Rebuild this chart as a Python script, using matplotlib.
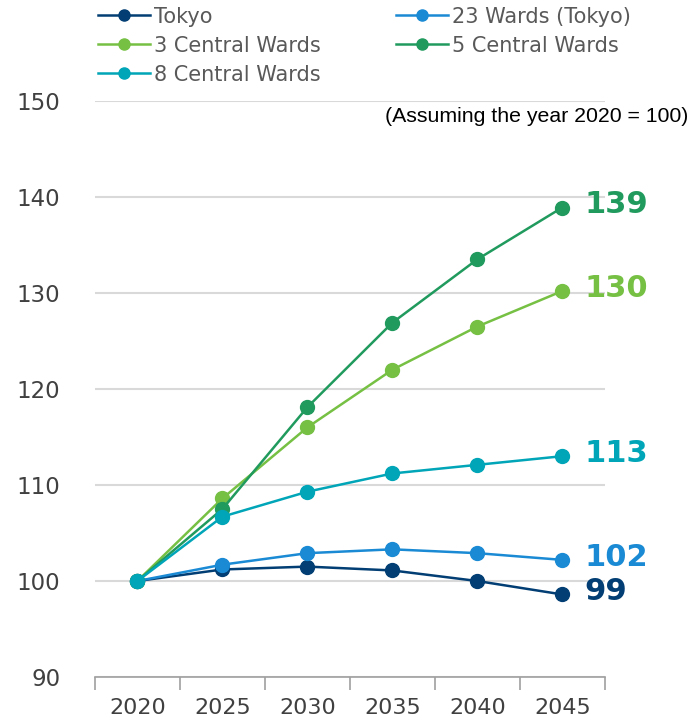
import matplotlib
matplotlib.use("Agg")
from matplotlib import pyplot as plt

years = ["2020", "2025", "2030", "2035", "2040", "2045"]
names = ["Tokyo", "23 Wards (Tokyo)", "3 Central Wards", "5 Central Wards", "8 Central Wards"]
tokyo = [100, 101.2, 101.5, 101.1, 100.0, 98.6]
wards23 = [100, 101.7, 102.9, 103.3, 102.9, 102.2]
central3 = [100, 108.6, 116.0, 122.0, 126.5, 130.2]
central5 = [100, 107.5, 118.1, 126.9, 133.5, 138.9]
central8 = [100, 106.7, 109.3, 111.2, 112.1, 113.0]
colors = ["#023e73", "#1a8ad4", "#76c044", "#219a5e", "#00a5b7"]

series = [tokyo, wards23, central3, central5, central8]

fig = plt.figure(figsize=(6.88, 7.21), dpi=100)
ax = fig.add_axes([0.138, 0.061, 0.741, 0.799])

x = list(range(len(years)))
lines = []
for vals, name, c in zip(series, names, colors):
    ln, = ax.plot(x, vals, color=c, lw=1.8, marker="o", ms=10, label=name, zorder=3)
    lines.append(ln)
    ax.annotate(f"{vals[-1]:.0f}", (x[-1], vals[-1]), xytext=(16, 2),
                textcoords="offset points", ha="left", va="center",
                fontsize=22, fontweight="bold", color=c)

ax.set_xlim(-0.5, 5.5)
ax.set_ylim(90, 150)
ax.set_yticks(range(90, 151, 10))
ax.set_xticks(x)
ax.set_xticklabels(years)
ax.set_xticks([i - 0.5 for i in range(7)], minor=True)
ax.tick_params(axis="x", which="major", length=0, pad=15, labelsize=16, labelcolor="#404040")
ax.tick_params(axis="x", which="minor", length=9, width=1.2, color="#a0a0a0", direction="out")
ax.tick_params(axis="y", length=0, pad=25, labelsize=16.5, labelcolor="#404040")
ax.grid(axis="y", color="#d9d9d9", lw=1.5)
ax.set_axisbelow(True)
for s in ["top", "right", "left"]:
    ax.spines[s].set_visible(False)
ax.spines["bottom"].set_color("#a0a0a0")
ax.spines["bottom"].set_linewidth(1.2)

fig.text(1.0, 0.839, "(Assuming the year 2020 = 100)", ha="right", va="center",
         fontsize=15.3, family="Liberation Sans", color="black")

# row-wise order for a two-column legend
order = [0, 2, 4, 1, 3]
leg = fig.legend([lines[i] for i in order], [names[i] for i in order],
                 loc="upper left", bbox_to_anchor=(0.121, 1.011), ncol=2,
                 frameon=False, fontsize=15, handlelength=2.5, handletextpad=0.2,
                 columnspacing=3.6, labelspacing=0.43, borderpad=0.2, markerscale=0.8)
for t in leg.get_texts():
    t.set_color("#595959")

fig.savefig("out.png", dpi=100)
